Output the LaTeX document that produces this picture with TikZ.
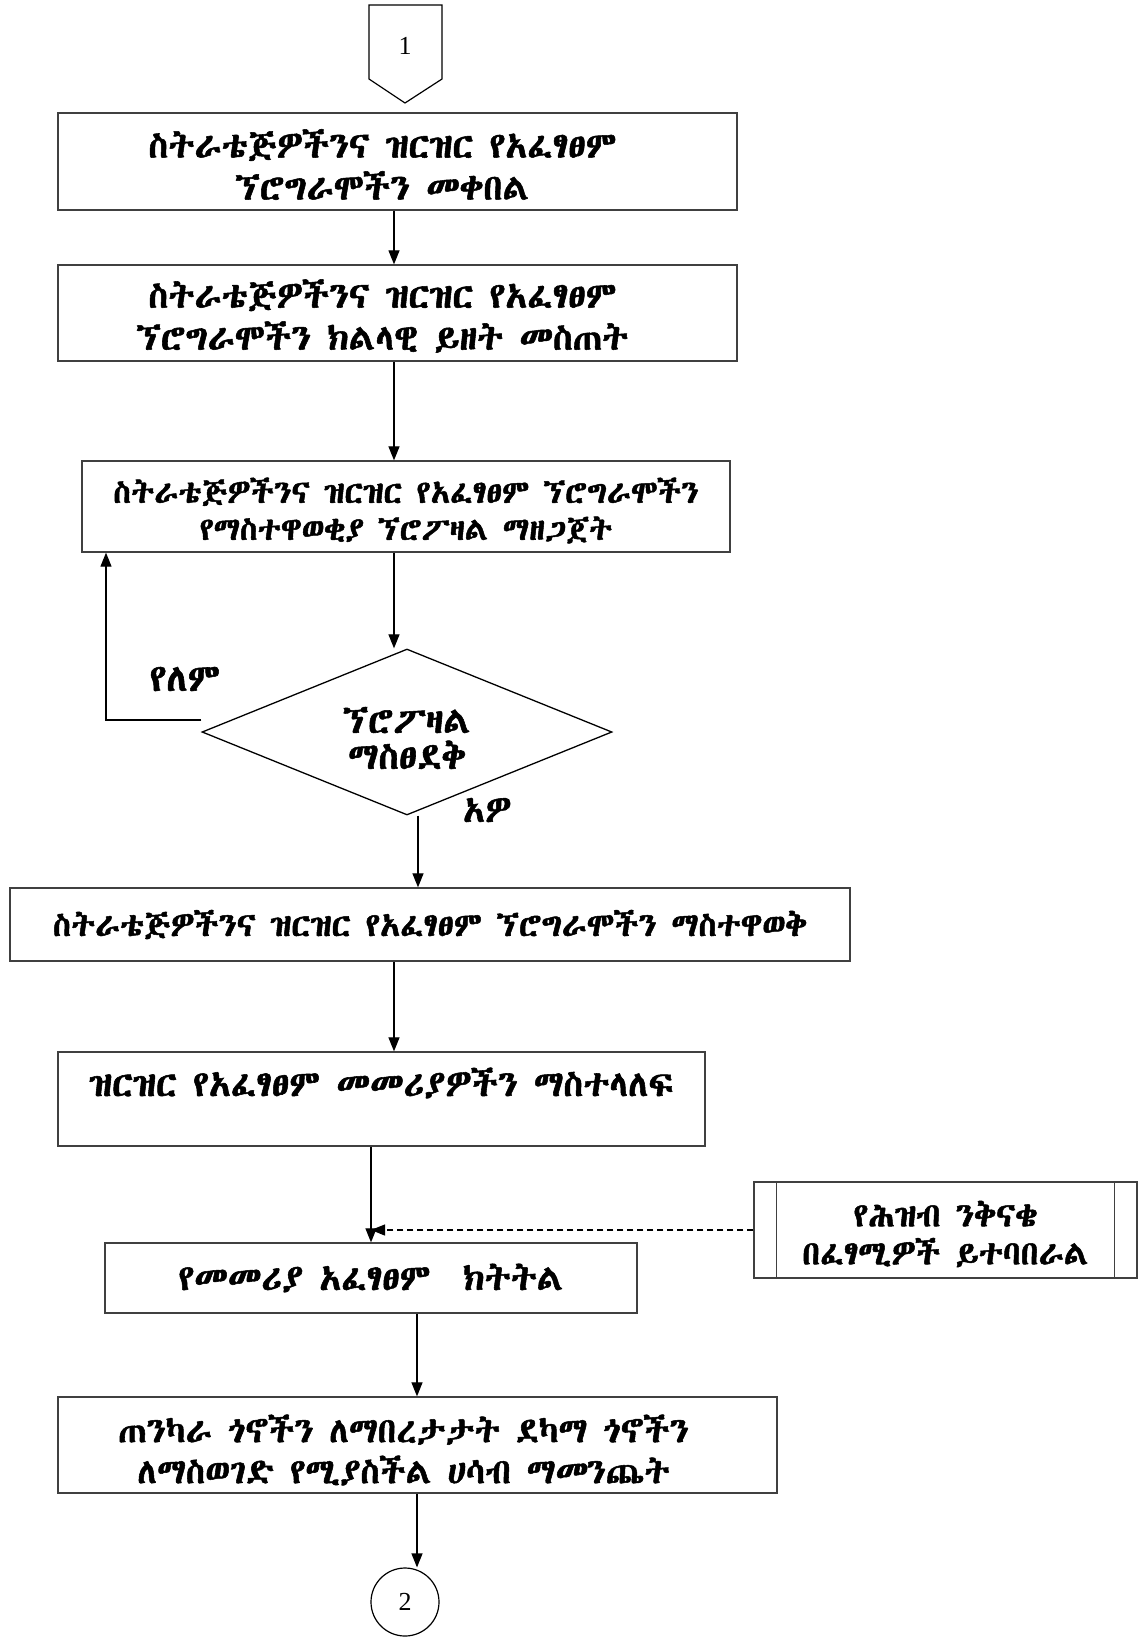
\documentclass[tikz,border=0pt]{standalone}
\usepackage{fontspec}
\usetikzlibrary{shapes.geometric,arrows.meta,calc}
\IfFontExistsTF{Abyssinica SIL}{\newfontfamily\ethfont[FakeBold=1.5]{Abyssinica SIL}}{%
 \IfFontExistsTF{Noto Sans Ethiopic}{\newfontfamily\ethfont{Noto Sans Ethiopic}}{%
  \IfFontExistsTF{FreeSerif}{\newfontfamily\ethfont[FakeBold=1.5]{FreeSerif}}{%
   \newfontfamily\ethfont{DejaVu Sans}}}}
\setmainfont{Liberation Serif}
\newcommand\efs[2]{\ethfont\fontsize{#1}{#2}\selectfont}
\tikzset{
  box/.style={draw=black!75, line width=1.3pt, rectangle, inner sep=0pt},
  txt/.style={inner sep=0pt, align=center},
  arr/.style={line width=1.2pt, -{Triangle[length=14pt,width=11pt]}},
}
\begin{document}
\begin{tikzpicture}[x=1pt,y=-1pt]
\useasboundingbox (0,0) rectangle (1143,1642);
% connector 1
\draw[line width=1.2pt] (369,5) -- (442,5) -- (442,79) -- (405,103) -- (369,79) -- cycle;
\node[inner sep=0pt, font=\fontsize{26}{30}\selectfont] (start) at (405,46) {1};
% boxes
\node[box, minimum width=679pt, minimum height=97pt] (b1) at (397.5,161.5) {};
\node[txt, font=\efs{36}{42}] (t1) at ($(b1.center)+(-15,3)$)
  {ስትራቴጅዎችንና ዝርዝር የአፈፃፀም\\ ኘሮግራሞችን መቀበል};
\node[box, minimum width=679pt, minimum height=96pt] (b2) at (397.5,313) {};
\node[txt, font=\efs{36}{42}] (t2) at ($(b2.center)+(-15,3)$)
  {ስትራቴጅዎችንና ዝርዝር የአፈፃፀም\\ ኘሮግራሞችን ክልላዊ ይዘት መስጠት};
\node[box, minimum width=648pt, minimum height=91pt] (b3) at (406,506.5) {};
\node[txt, font=\efs{32}{37}] (t3) at ($(b3.center)+(0,4)$)
  {ስትራቴጅዎችንና ዝርዝር የአፈፃፀም ኘሮግራሞችን\\ የማስተዋወቂያ ኘሮፖዛል ማዘጋጀት};
\node[draw=black, line width=1.3pt, diamond, aspect=2.4, inner sep=0pt, minimum width=410pt, minimum height=166pt] (dia) at (407,732) {};
\node[txt, font=\efs{37}{36}] (td) at ($(dia.center)+(0,6)$)
  {ኘሮፖዛል\\ ማስፀደቅ};
\node[box, minimum width=840pt, minimum height=73pt] (b4) at (430,924.5) {};
\node[txt, font=\efs{33}{38}] (t4) at (b4.center)
  {ስትራቴጅዎችንና ዝርዝር የአፈፃፀም ኘሮግራሞችን ማስተዋወቅ};
\node[box, minimum width=647pt, minimum height=94pt] (b5) at (381.5,1099) {};
\node[txt, font=\efs{36}{42}] (t5) at (381.5,1083)
  {ዝርዝር የአፈፃፀም መመሪያዎችን ማስተላለፍ};
\node[box, minimum width=383pt, minimum height=96pt] (side) at (945.5,1230) {};
\draw[draw=black!75, line width=1.3pt] ($(side.north west)+(23,0)$) -- ($(side.south west)+(23,0)$)
  ($(side.north east)+(-23,0)$) -- ($(side.south east)+(-23,0)$);
\node[txt, font=\efs{33.5}{38}] (ts) at ($(side.center)+(0,4)$)
  {የሕዝብ ንቅናቄ\\ በፈፃሚዎች ይተባበራል};
\node[box, minimum width=532pt, minimum height=70pt] (b6) at (371,1278) {};
\node[txt, font=\efs{36}{42}] (t6) at (b6.center)
  {የመመሪያ አፈፃፀም \ ክትትል};
\node[box, minimum width=719pt, minimum height=96pt] (b7) at (417.5,1445) {};
\node[txt, font=\efs{35}{41}] (t7) at ($(b7.center)+(-14,5)$)
  {ጠንካራ ጎኖችን ለማበረታታት ደካማ ጎኖችን\\ ለማስወገድ የሚያስችል ሀሳብ ማመንጨት};
\node[draw=black, line width=1.2pt, circle, minimum size=68pt, inner sep=0pt, font=\fontsize{26}{30}\selectfont] (end) at (405,1602) {2};
% labels
\node[txt, font=\efs{38}{40}] (no) at (185,679) {የለም};
\node[txt, font=\efs{36}{40}] (yes) at (487,810) {አዎ};
% connectors
\coordinate (xa) at (394,0);
\coordinate (xb) at (371,0);
\coordinate (xc) at (417,0);
\coordinate (xd) at (418,0);
\coordinate (xe) at (106,720);
\draw[arr] (b1.south -| xa) -- (b2.north -| xa);
\draw[arr] (b2.south -| xa) -- (b3.north -| xa);
\draw[arr] (b3.south -| xa) -- (xa |- dia.north);
\draw[arr] (dia.west |- xe) -- (xe) -- (b3.south -| xe);
\draw[arr] (dia.south -| xd) -- (b4.north -| xd);
\draw[arr] (b4.south -| xa) -- (b5.north -| xa);
\draw[arr] (b5.south -| xb) -- (b6.north -| xb);
\draw[arr, dash pattern=on 6pt off 4pt] (side.west) -- (side.west -| xb);
\draw[arr] (b6.south -| xc) -- (b7.north -| xc);
\draw[arr] (b7.south -| xc) -- (end.north -| xc);
\end{tikzpicture}
\end{document}
